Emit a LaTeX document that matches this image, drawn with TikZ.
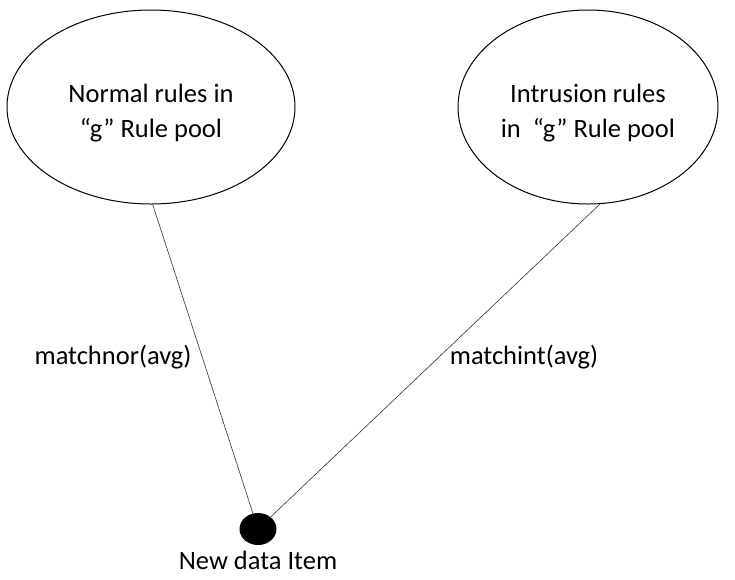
\documentclass[tikz,border=0pt]{standalone}
\usepackage{fontspec}
\setmainfont{Carlito}
\usetikzlibrary{shapes.geometric}
\begin{document}
\begin{tikzpicture}[x=1pt,y=-1pt,
  pool/.style={ellipse,draw=black,line width=1pt,minimum width=#1,minimum height=194pt,inner sep=0pt},
  pooltext/.style={align=center,inner sep=0pt,font=\fontsize{26.5}{35}\selectfont},
  item/.style={ellipse,fill=black,minimum width=37pt,minimum height=32pt,inner sep=0pt},
  link/.style={draw=black!80,line width=0.6pt},
  lbl/.style={font=\fontsize{26.5}{32}\selectfont,inner sep=0pt}]
\useasboundingbox (0,0) rectangle (735,579);
% rule pools
\node[pool=288pt] (normal) at (151,107) {};
\node[pooltext] (normaltxt) at ([yshift=-6pt]normal.center) {Normal rules in\\“g” Rule pool};
\node[pool=260pt] (intr) at (588,107) {};
\node[pooltext] (intrtxt) at ([yshift=-6pt]intr.center) {Intrusion rules\\in~ “g” Rule pool};
% new data item
\node[item] (item) at (258,529) {};
\node[lbl,anchor=north] (itemlbl) at (258,551) {New data Item};
% links
\draw[link] (normal.-89) -- (item);
\draw[link] (intr.-83) -- (item);
% link labels
\node[lbl] (lnor) at (113,357) {matchnor(avg)};
\node[lbl] (lint) at (524,357) {matchint(avg)};
\end{tikzpicture}
\end{document}
